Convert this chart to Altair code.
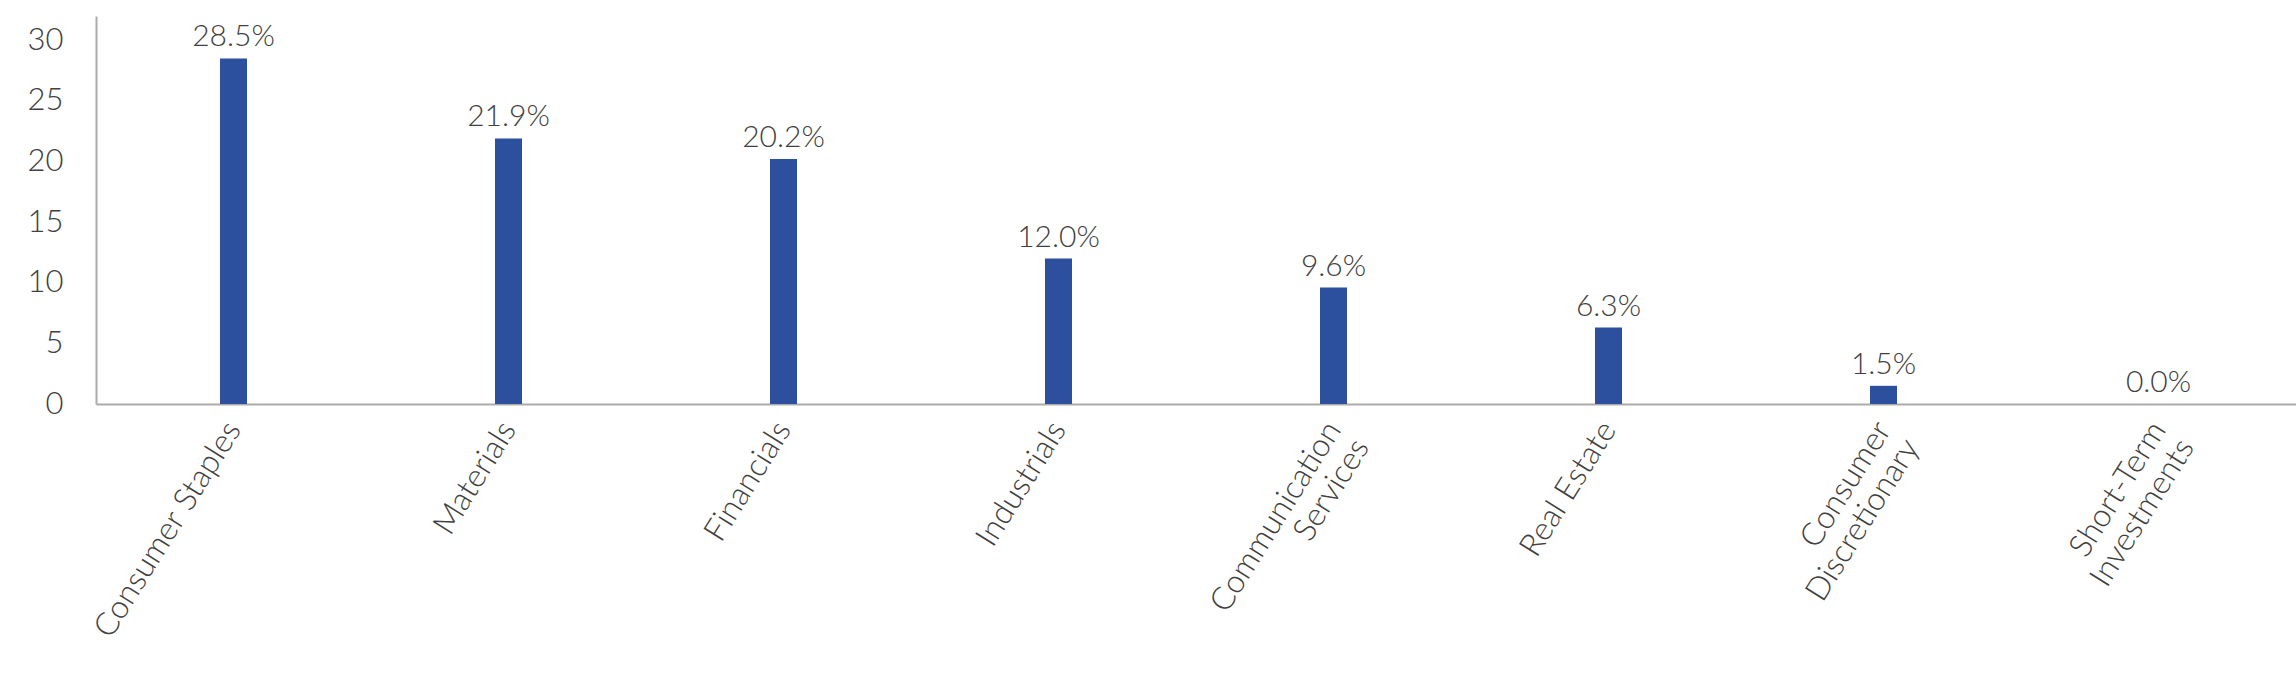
import altair as alt
import pandas as pd

categories = ["Consumer Staples", "Materials", "Financials", "Industrials",
              "Communication\nServices", "Real Estate", "Consumer\nDiscretionary",
              "Short-Term\nInvestments"]
values = [28.5, 21.9, 20.2, 12.0, 9.6, 6.3, 1.5, 0.0]
y_ticks = [0, 5, 10, 15, 20, 25, 30]

df = pd.DataFrame({"sector": categories, "pct": values})
df["label"] = df["pct"].map(lambda v: f"{v:.1f}%")

FONT = "Lato"
TXT = "#404040"
BAR = "#2C4F9E"

x = alt.X("sector:N", sort=categories, title=None,
          scale=alt.Scale(paddingInner=0, paddingOuter=0),
          axis=alt.Axis(labelAngle=-58, labelAlign="right", labelBaseline="middle",
                        labelPadding=20, ticks=False, domainColor="#ababab", domainWidth=2,
                        labelFontSize=32, labelColor=TXT, labelFont=FONT, labelFontWeight=300,
                        labelExpr="split(datum.label, '\\n')", labelLineHeight=33,
                        labelLimit=600))
y = alt.Y("pct:Q", title=None, scale=alt.Scale(domain=[0, 32], nice=False),
          axis=alt.Axis(values=y_ticks, ticks=False, grid=False, domainColor="#ababab",
                        domainWidth=2, labelFontSize=31, labelColor=TXT, labelFont=FONT,
                        labelFontWeight=300, labelPadding=33))

bars = alt.Chart(df).mark_bar(size=27, color=BAR).encode(x=x, y=y)
text = alt.Chart(df).mark_text(baseline="bottom", dy=-6, fontSize=30, font=FONT,
                               fontWeight=300, color=TXT).encode(x=x, y=y, text="label:N")

chart = alt.layer(bars, text).properties(
    width=2200, height=388,
    autosize=alt.AutoSizeParams(type="none"),
    padding={"left": 96, "top": 16, "right": 0, "bottom": 288},
).configure_view(stroke=None)

chart.save("out.html", embed_options={"renderer": "svg", "actions": False})
